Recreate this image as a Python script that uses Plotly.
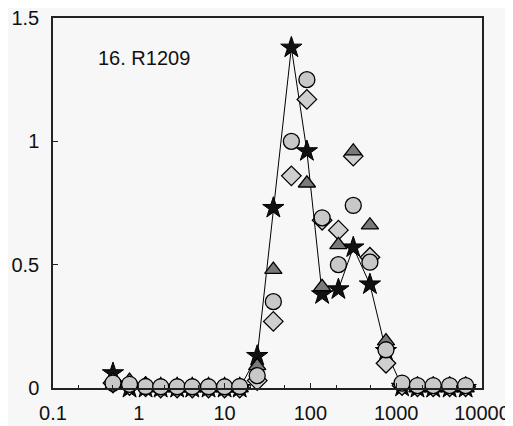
import plotly.graph_objects as go

size = [0.5, 0.78, 1.2, 1.8, 2.8, 4.2, 6.5, 10, 15, 24, 37, 60, 91, 137, 212, 316, 494, 760, 1170, 1770, 2700, 4200, 6450]
star = [0.06, 0, 0, 0, 0, 0, 0, 0, 0, 0.13, 0.73, 1.38, 0.96, 0.38, 0.40, 0.57, 0.42, 0.15, 0.005, 0, 0, 0, 0]
circle = [0.02, 0.015, 0.006, 0.005, 0.005, 0.005, 0.005, 0.005, 0.006, 0.05, 0.35, 1.0, 1.25, 0.69, 0.50, 0.74, 0.51, 0.155, 0.02, 0.01, 0.01, 0.01, 0.01]
diamond = [0.02, 0.01, 0.005, 0, 0, 0, 0, 0, 0, 0.03, 0.27, 0.86, 1.17, 0.68, 0.64, 0.94, 0.53, 0.10, 0.01, 0.005, 0.005, 0.005, 0.005]
triangle = [0.01, 0.03, 0.015, 0, 0, 0, 0, 0, 0, 0.09, 0.48, None, 0.83, 0.41, 0.58, 0.96, 0.66, 0.19, 0.01, 0, 0, 0, 0]

x_ticks = [0.1, 1, 10, 100, 1000, 10000]
x_labels = ["0.1", "1", "10", "100", "1000", "10000"]
y_ticks = [0, 0.5, 1, 1.5]
y_labels = ["0", "0.5", "1", "1.5"]
label = "16. R1209"

fig = go.Figure()
fig.add_trace(go.Scatter(x=size, y=star, mode="lines+markers", cliponaxis=False,
                         line=dict(color="black", width=1),
                         marker=dict(symbol="star", size=16, color="#111111",
                                     line=dict(color="black", width=1))))
fig.add_trace(go.Scatter(x=size, y=diamond, mode="markers", cliponaxis=False,
                         marker=dict(symbol="diamond", size=15, color="#cfcfcf",
                                     line=dict(color="black", width=1.3))))
fig.add_trace(go.Scatter(x=size, y=triangle, mode="markers", cliponaxis=False,
                         marker=dict(symbol="triangle-up", size=15, color="#7a7a7a",
                                     line=dict(color="black", width=1.3))))
fig.add_trace(go.Scatter(x=size, y=circle, mode="markers", cliponaxis=False,
                         marker=dict(symbol="circle", size=16, color="#c8c8c8",
                                     line=dict(color="black", width=1.3))))

fig.add_annotation(text=label, xref="paper", yref="paper", x=0.1, y=0.892,
                   xanchor="left", yanchor="middle", showarrow=False,
                   font=dict(family="Liberation Sans, Arial", size=20, color="#111111"))

fig.update_layout(
    width=505, height=418,
    margin=dict(l=45, r=31, t=10, b=38, autoexpand=False),
    paper_bgcolor="#f7f7f7", plot_bgcolor="#f7f7f7",
    showlegend=False,
    font=dict(family="Liberation Sans, Arial", size=20, color="#111111"),
)
fig.update_xaxes(type="log", range=[-1, 4], tickvals=x_ticks, ticktext=x_labels,
                 ticks="inside", ticklen=5, tickcolor="#222", showgrid=False, zeroline=False,
                 showline=True, linecolor="#222", linewidth=1.5, mirror=True,
                 ticklabelstandoff=6, automargin=False, ticklabeloverflow="allow",
                 minor=dict(ticks="inside", ticklen=3, tickcolor="#222", showgrid=False))
fig.update_yaxes(range=[0, 1.5], tickvals=y_ticks, ticktext=y_labels,
                 ticks="inside", ticklen=5, tickcolor="#222", showgrid=False, zeroline=False,
                 showline=True, linecolor="#222", linewidth=1.5, mirror=True,
                 ticklabelstandoff=8, automargin=False, ticklabeloverflow="allow")

fig.write_html("out.html")
